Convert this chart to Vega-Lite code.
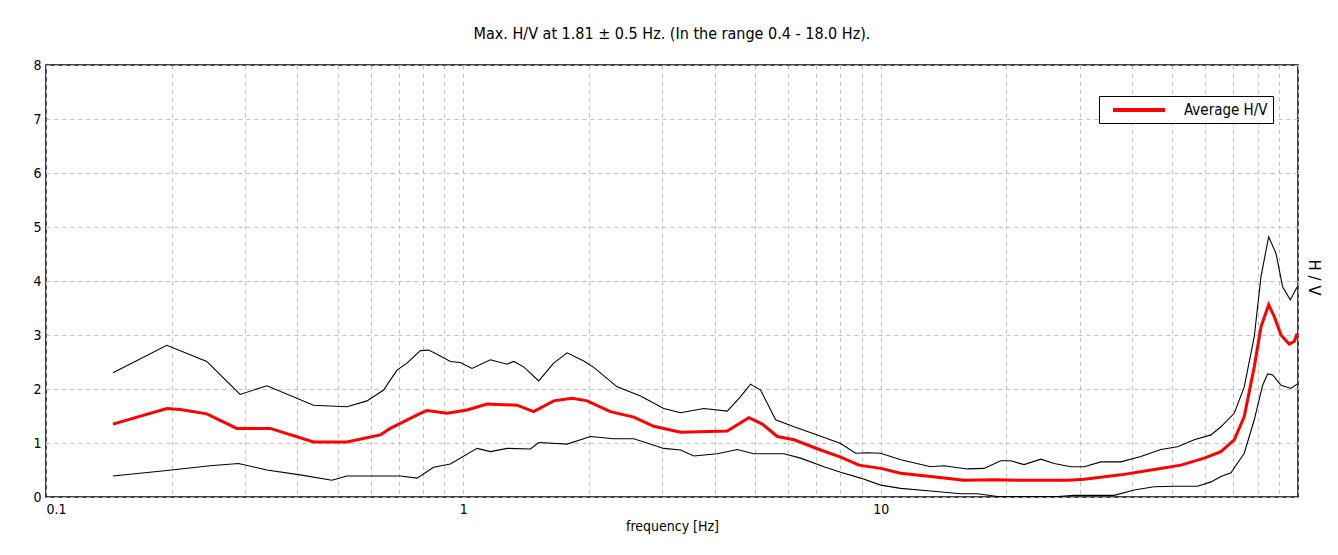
{
  "$schema": "https://vega.github.io/schema/vega-lite/v6.json",
  "autosize": {"type": "none"},
  "width": 1252,
  "height": 432,
  "padding": {"left": 46, "top": 65, "right": 40, "bottom": 58},
  "background": "white",
  "title": {
    "text": "Max. H/V at 1.81 ± 0.5 Hz. (In the range 0.4 - 18.0 Hz).",
    "font": "Liberation Sans Narrow, DejaVu Sans Condensed, sans-serif",
    "fontSize": 16,
    "fontWeight": "normal",
    "color": "black",
    "anchor": "middle",
    "offset": 16
  },
  "config": {
    "view": {"stroke": "black", "strokeWidth": 1.5},
    "axis": {
      "labelFont": "Liberation Sans Narrow, DejaVu Sans Condensed, sans-serif",
      "titleFont": "Liberation Sans Narrow, DejaVu Sans Condensed, sans-serif",
      "labelColor": "black",
      "titleColor": "black",
      "labelFontSize": 14,
      "titleFontSize": 14,
      "titleFontWeight": "normal",
      "ticks": false,
      "domain": false,
      "gridColor": "#bdbdbd",
      "gridDash": [4, 4],
      "gridWidth": 1
    },
    "legend": {
      "labelFont": "Liberation Sans Narrow, DejaVu Sans Condensed, sans-serif"
    }
  },
  "data": {
    "values": [
      {"f": 0.1447, "v": 2.30, "s": "upper"},
      {"f": 0.1948, "v": 2.81, "s": "upper"},
      {"f": 0.2428, "v": 2.51, "s": "upper"},
      {"f": 0.2919, "v": 1.90, "s": "upper"},
      {"f": 0.3383, "v": 2.06, "s": "upper"},
      {"f": 0.4375, "v": 1.70, "s": "upper"},
      {"f": 0.5262, "v": 1.67, "s": "upper"},
      {"f": 0.5877, "v": 1.78, "s": "upper"},
      {"f": 0.6441, "v": 1.98, "s": "upper"},
      {"f": 0.6934, "v": 2.35, "s": "upper"},
      {"f": 0.7328, "v": 2.48, "s": "upper"},
      {"f": 0.7888, "v": 2.71, "s": "upper"},
      {"f": 0.8257, "v": 2.72, "s": "upper"},
      {"f": 0.8807, "v": 2.61, "s": "upper"},
      {"f": 0.9307, "v": 2.51, "s": "upper"},
      {"f": 0.9835, "v": 2.49, "s": "upper"},
      {"f": 1.049, "v": 2.38, "s": "upper"},
      {"f": 1.161, "v": 2.54, "s": "upper"},
      {"f": 1.273, "v": 2.46, "s": "upper"},
      {"f": 1.320, "v": 2.51, "s": "upper"},
      {"f": 1.395, "v": 2.41, "s": "upper"},
      {"f": 1.516, "v": 2.15, "s": "upper"},
      {"f": 1.646, "v": 2.48, "s": "upper"},
      {"f": 1.773, "v": 2.67, "s": "upper"},
      {"f": 1.943, "v": 2.52, "s": "upper"},
      {"f": 2.053, "v": 2.40, "s": "upper"},
      {"f": 2.337, "v": 2.04, "s": "upper"},
      {"f": 2.658, "v": 1.87, "s": "upper"},
      {"f": 3.022, "v": 1.64, "s": "upper"},
      {"f": 3.314, "v": 1.56, "s": "upper"},
      {"f": 3.770, "v": 1.64, "s": "upper"},
      {"f": 4.290, "v": 1.59, "s": "upper"},
      {"f": 4.617, "v": 1.86, "s": "upper"},
      {"f": 4.878, "v": 2.09, "s": "upper"},
      {"f": 5.155, "v": 1.98, "s": "upper"},
      {"f": 5.602, "v": 1.43, "s": "upper"},
      {"f": 6.197, "v": 1.30, "s": "upper"},
      {"f": 7.052, "v": 1.15, "s": "upper"},
      {"f": 8.020, "v": 0.99, "s": "upper"},
      {"f": 8.710, "v": 0.81, "s": "upper"},
      {"f": 9.292, "v": 0.82, "s": "upper"},
      {"f": 10.0, "v": 0.81, "s": "upper"},
      {"f": 11.17, "v": 0.69, "s": "upper"},
      {"f": 13.18, "v": 0.56, "s": "upper"},
      {"f": 14.18, "v": 0.58, "s": "upper"},
      {"f": 16.14, "v": 0.52, "s": "upper"},
      {"f": 17.69, "v": 0.53, "s": "upper"},
      {"f": 19.40, "v": 0.67, "s": "upper"},
      {"f": 20.50, "v": 0.67, "s": "upper"},
      {"f": 22.06, "v": 0.60, "s": "upper"},
      {"f": 24.19, "v": 0.70, "s": "upper"},
      {"f": 26.04, "v": 0.62, "s": "upper"},
      {"f": 28.55, "v": 0.56, "s": "upper"},
      {"f": 30.73, "v": 0.56, "s": "upper"},
      {"f": 33.70, "v": 0.65, "s": "upper"},
      {"f": 37.63, "v": 0.65, "s": "upper"},
      {"f": 42.02, "v": 0.75, "s": "upper"},
      {"f": 46.94, "v": 0.88, "s": "upper"},
      {"f": 51.46, "v": 0.93, "s": "upper"},
      {"f": 56.41, "v": 1.06, "s": "upper"},
      {"f": 61.86, "v": 1.15, "s": "upper"},
      {"f": 65.36, "v": 1.30, "s": "upper"},
      {"f": 70.35, "v": 1.55, "s": "upper"},
      {"f": 74.34, "v": 2.04, "s": "upper"},
      {"f": 78.56, "v": 2.97, "s": "upper"},
      {"f": 81.52, "v": 4.08, "s": "upper"},
      {"f": 85.06, "v": 4.82, "s": "upper"},
      {"f": 88.57, "v": 4.51, "s": "upper"},
      {"f": 91.90, "v": 3.89, "s": "upper"},
      {"f": 95.83, "v": 3.65, "s": "upper"},
      {"f": 99.5, "v": 3.89, "s": "upper"},

      {"f": 0.1447, "v": 1.35, "s": "Average H/V"},
      {"f": 0.1948, "v": 1.64, "s": "Average H/V"},
      {"f": 0.2097, "v": 1.62, "s": "Average H/V"},
      {"f": 0.2428, "v": 1.54, "s": "Average H/V"},
      {"f": 0.2866, "v": 1.27, "s": "Average H/V"},
      {"f": 0.3445, "v": 1.27, "s": "Average H/V"},
      {"f": 0.4375, "v": 1.02, "s": "Average H/V"},
      {"f": 0.5262, "v": 1.02, "s": "Average H/V"},
      {"f": 0.6324, "v": 1.15, "s": "Average H/V"},
      {"f": 0.6682, "v": 1.27, "s": "Average H/V"},
      {"f": 0.7888, "v": 1.55, "s": "Average H/V"},
      {"f": 0.8182, "v": 1.60, "s": "Average H/V"},
      {"f": 0.9138, "v": 1.55, "s": "Average H/V"},
      {"f": 1.021, "v": 1.61, "s": "Average H/V"},
      {"f": 1.140, "v": 1.72, "s": "Average H/V"},
      {"f": 1.345, "v": 1.70, "s": "Average H/V"},
      {"f": 1.474, "v": 1.58, "s": "Average H/V"},
      {"f": 1.646, "v": 1.78, "s": "Average H/V"},
      {"f": 1.823, "v": 1.83, "s": "Average H/V"},
      {"f": 1.980, "v": 1.78, "s": "Average H/V"},
      {"f": 2.251, "v": 1.58, "s": "Average H/V"},
      {"f": 2.561, "v": 1.48, "s": "Average H/V"},
      {"f": 2.860, "v": 1.31, "s": "Average H/V"},
      {"f": 3.314, "v": 1.20, "s": "Average H/V"},
      {"f": 4.290, "v": 1.22, "s": "Average H/V"},
      {"f": 4.833, "v": 1.47, "s": "Average H/V"},
      {"f": 5.204, "v": 1.35, "s": "Average H/V"},
      {"f": 5.655, "v": 1.12, "s": "Average H/V"},
      {"f": 6.197, "v": 1.06, "s": "Average H/V"},
      {"f": 7.181, "v": 0.87, "s": "Average H/V"},
      {"f": 8.020, "v": 0.74, "s": "Average H/V"},
      {"f": 8.872, "v": 0.59, "s": "Average H/V"},
      {"f": 10.0, "v": 0.53, "s": "Average H/V"},
      {"f": 11.17, "v": 0.44, "s": "Average H/V"},
      {"f": 13.18, "v": 0.38, "s": "Average H/V"},
      {"f": 15.84, "v": 0.31, "s": "Average H/V"},
      {"f": 18.70, "v": 0.32, "s": "Average H/V"},
      {"f": 21.66, "v": 0.31, "s": "Average H/V"},
      {"f": 28.04, "v": 0.31, "s": "Average H/V"},
      {"f": 30.73, "v": 0.33, "s": "Average H/V"},
      {"f": 37.63, "v": 0.41, "s": "Average H/V"},
      {"f": 45.23, "v": 0.51, "s": "Average H/V"},
      {"f": 52.41, "v": 0.59, "s": "Average H/V"},
      {"f": 59.61, "v": 0.72, "s": "Average H/V"},
      {"f": 65.36, "v": 0.84, "s": "Average H/V"},
      {"f": 70.35, "v": 1.06, "s": "Average H/V"},
      {"f": 74.34, "v": 1.49, "s": "Average H/V"},
      {"f": 78.56, "v": 2.41, "s": "Average H/V"},
      {"f": 81.52, "v": 3.15, "s": "Average H/V"},
      {"f": 85.06, "v": 3.56, "s": "Average H/V"},
      {"f": 87.74, "v": 3.34, "s": "Average H/V"},
      {"f": 91.03, "v": 3.00, "s": "Average H/V"},
      {"f": 95.30, "v": 2.83, "s": "Average H/V"},
      {"f": 97.97, "v": 2.88, "s": "Average H/V"},
      {"f": 99.5, "v": 3.03, "s": "Average H/V"},

      {"f": 0.1447, "v": 0.39, "s": "lower"},
      {"f": 0.1948, "v": 0.49, "s": "lower"},
      {"f": 0.2473, "v": 0.58, "s": "lower"},
      {"f": 0.2892, "v": 0.62, "s": "lower"},
      {"f": 0.3383, "v": 0.50, "s": "lower"},
      {"f": 0.4064, "v": 0.41, "s": "lower"},
      {"f": 0.4842, "v": 0.31, "s": "lower"},
      {"f": 0.5262, "v": 0.39, "s": "lower"},
      {"f": 0.7062, "v": 0.39, "s": "lower"},
      {"f": 0.7746, "v": 0.35, "s": "lower"},
      {"f": 0.8487, "v": 0.55, "s": "lower"},
      {"f": 0.9307, "v": 0.61, "s": "lower"},
      {"f": 1.079, "v": 0.90, "s": "lower"},
      {"f": 1.161, "v": 0.84, "s": "lower"},
      {"f": 1.273, "v": 0.90, "s": "lower"},
      {"f": 1.448, "v": 0.89, "s": "lower"},
      {"f": 1.516, "v": 1.01, "s": "lower"},
      {"f": 1.773, "v": 0.98, "s": "lower"},
      {"f": 2.017, "v": 1.12, "s": "lower"},
      {"f": 2.293, "v": 1.08, "s": "lower"},
      {"f": 2.561, "v": 1.08, "s": "lower"},
      {"f": 3.022, "v": 0.90, "s": "lower"},
      {"f": 3.314, "v": 0.87, "s": "lower"},
      {"f": 3.567, "v": 0.76, "s": "lower"},
      {"f": 4.059, "v": 0.80, "s": "lower"},
      {"f": 4.534, "v": 0.88, "s": "lower"},
      {"f": 4.969, "v": 0.80, "s": "lower"},
      {"f": 5.865, "v": 0.80, "s": "lower"},
      {"f": 6.430, "v": 0.72, "s": "lower"},
      {"f": 7.311, "v": 0.56, "s": "lower"},
      {"f": 8.020, "v": 0.46, "s": "lower"},
      {"f": 8.954, "v": 0.35, "s": "lower"},
      {"f": 10.0, "v": 0.22, "s": "lower"},
      {"f": 11.17, "v": 0.16, "s": "lower"},
      {"f": 13.18, "v": 0.11, "s": "lower"},
      {"f": 15.55, "v": 0.06, "s": "lower"},
      {"f": 17.06, "v": 0.06, "s": "lower"},
      {"f": 19.05, "v": 0.01, "s": "lower"},
      {"f": 26.53, "v": 0.01, "s": "lower"},
      {"f": 29.08, "v": 0.03, "s": "lower"},
      {"f": 36.27, "v": 0.03, "s": "lower"},
      {"f": 40.50, "v": 0.13, "s": "lower"},
      {"f": 45.23, "v": 0.19, "s": "lower"},
      {"f": 50.51, "v": 0.20, "s": "lower"},
      {"f": 57.47, "v": 0.20, "s": "lower"},
      {"f": 61.86, "v": 0.28, "s": "lower"},
      {"f": 65.36, "v": 0.38, "s": "lower"},
      {"f": 69.08, "v": 0.45, "s": "lower"},
      {"f": 74.34, "v": 0.81, "s": "lower"},
      {"f": 78.56, "v": 1.43, "s": "lower"},
      {"f": 82.28, "v": 2.07, "s": "lower"},
      {"f": 84.60, "v": 2.28, "s": "lower"},
      {"f": 86.97, "v": 2.26, "s": "lower"},
      {"f": 91.03, "v": 2.07, "s": "lower"},
      {"f": 96.21, "v": 2.01, "s": "lower"},
      {"f": 99.45, "v": 2.09, "s": "lower"}
    ]
  },
  "encoding": {
    "x": {
      "field": "f",
      "type": "quantitative",
      "scale": {"type": "log", "domain": [0.1, 100], "nice": false},
      "axis": {
        "title": "frequency [Hz]",
        "values": [0.1, 0.2, 0.3, 0.4, 0.5, 0.6, 0.7, 0.8, 0.9, 1, 2, 3, 4, 5, 6, 7, 8, 9, 10, 20, 30, 40, 50, 60, 70, 80, 90, 100],
        "labelExpr": "datum.value == 0.1 ? '0.1' : datum.value == 1 ? '1' : datum.value == 10 ? '10' : ''",
        "labelPadding": 5,
        "titlePadding": 3,
        "labelOverlap": false
      }
    },
    "y": {
      "field": "v",
      "type": "quantitative",
      "scale": {"domain": [0, 8], "nice": false},
      "axis": {
        "values": [0, 1, 2, 3, 4, 5, 6, 7, 8],
        "labelPadding": 5,
        "title": "H / V",
        "titleFont": "DejaVu Sans",
        "titleFontSize": 15,
        "titleAngle": 90,
        "titleX": 1267,
        "titleY": 212,
        "titleAlign": "center",
        "titleBaseline": "middle"
      }
    }
  },
  "layer": [
    {
      "transform": [{"filter": "datum.s != 'Average H/V'"}],
      "mark": {"type": "line", "color": "black", "strokeWidth": 1.1, "clip": true},
      "encoding": {"detail": {"field": "s"}}
    },
    {
      "transform": [{"filter": "datum.s == 'Average H/V'"}],
      "mark": {"type": "line", "strokeWidth": 3, "clip": true},
      "encoding": {
        "color": {
          "field": "s",
          "type": "nominal",
          "scale": {"domain": ["Average H/V"], "range": ["#ff0000"]},
          "legend": {
            "title": null,
            "orient": "none",
            "legendX": 1053,
            "legendY": 31,
            "strokeColor": "black",
            "fillColor": "white",
            "padding": 5,
            "symbolType": "M0,0H7.43",
            "symbolSize": 196,
            "symbolStrokeWidth": 4,
            "labelFontSize": 15,
            "labelColor": "black",
            "labelOffset": 62
          }
        }
      }
    }
  ]
}
